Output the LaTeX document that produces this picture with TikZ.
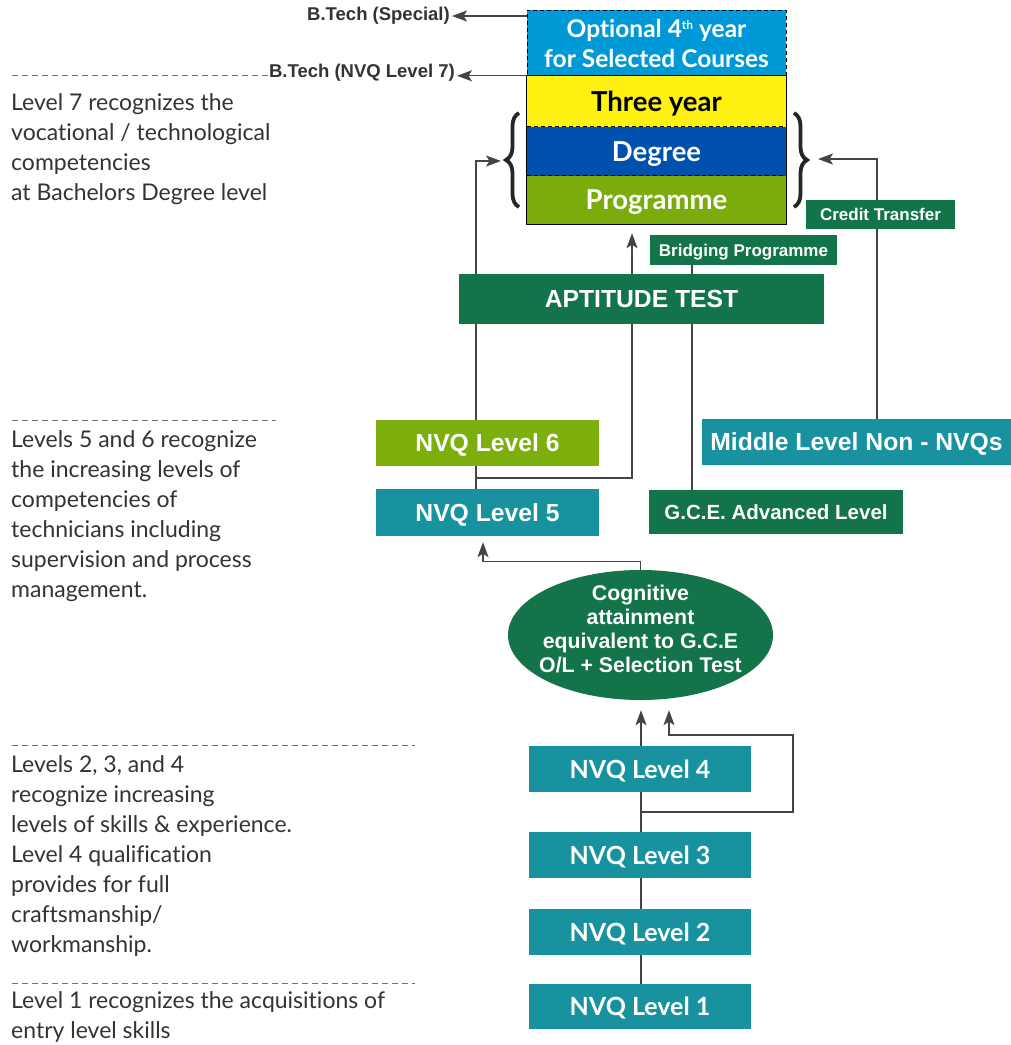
\documentclass[tikz,border=0pt]{standalone}
\usepackage{fontspec}
\setmainfont{Liberation Sans}
\newfontfamily\gill[Ligatures=NoCommon]{Lato}
\usetikzlibrary{arrows.meta,decorations.pathreplacing,shapes.geometric,calc}
\definecolor{cteal}{HTML}{17929E}
\definecolor{cdgreen}{HTML}{137349}
\definecolor{clgreen}{HTML}{7DAF0C}
\definecolor{csky}{HTML}{0099D8}
\definecolor{cyellow}{HTML}{FFF212}
\definecolor{cdblue}{HTML}{0050B0}
\definecolor{cprog}{HTML}{7BAC0E}
\definecolor{cline}{HTML}{444444}
\definecolor{ctext}{HTML}{333333}
\pgfdeclarelayer{bg}
\pgfsetlayers{bg,main}
\begin{document}
\begin{tikzpicture}[x=1pt,y=-1pt,
  box/.style={rectangle, inner sep=0pt, text=white, text depth=0pt, font=\bfseries\fontsize{24.7}{28}\selectfont},
  gbox/.style={box, font=\gill\bfseries\fontsize{25}{28}\selectfont},
  arr/.style={-{Stealth[length=15pt,width=11pt,inset=3.5pt]}, draw=cline, line width=1.3pt},
  conn/.style={draw=cline, line width=1.3pt},
  lefttext/.style={anchor=north west, inner sep=0pt, align=left, text=ctext, font=\gill\fontsize{23}{30}\selectfont},
  sep/.style={draw=ctext!70, line width=0.8pt, dash pattern=on 6pt off 4pt},
  btlab/.style={inner sep=2pt, text=ctext, font=\bfseries\fontsize{18.5}{20}\selectfont},
  stack/.style={rectangle, inner sep=0pt, minimum width=259pt, text=white, text depth=0pt, font=\gill\bfseries\fontsize{27.5}{30}\selectfont},
  elltext/.style={inner sep=0pt, text=white, align=center, font=\bfseries\fontsize{21.3}{24}\selectfont}
]
\useasboundingbox (0,0) rectangle (1011,1045);

% top stack
\node[rectangle, inner sep=0pt, minimum width=259pt, text=white, fill=csky, minimum height=66pt, draw=black, line width=1pt, dash pattern=on 4pt off 3pt, align=center,
      font=\gill\bfseries\fontsize{24.5}{30}\selectfont] (opt) at (656.5,43) {Optional 4\raisebox{8pt}{\fontsize{12}{12}\selectfont th} year\\for Selected Courses};
\node[stack, fill=cyellow, minimum height=51pt, text=black] (three) at (656.5,101.5) {Three year};
\node[stack, fill=cdblue, minimum height=49pt] (deg) at (656.5,151.5) {Degree};
\node[stack, fill=cprog, minimum height=48pt] (prog) at (656.5,200) {Programme};
\draw[line width=1.2pt] (three.north west) rectangle (prog.south east);
\draw[line width=1pt, dash pattern=on 4pt off 3pt] (deg.north west) -- (deg.north east);
\draw[line width=1pt, dash pattern=on 4pt off 3pt] (prog.north west) -- (prog.north east);

% braces
\draw[decorate, decoration={brace, amplitude=13pt}, line width=3.8pt, draw=black!85] (519,207) -- (519,113);
\draw[decorate, decoration={brace, amplitude=13pt}, line width=3.8pt, draw=black!85] (794,113) -- (794,207);
\coordinate (lbt) at (501,161);
\coordinate (rbt) at (818,159);

% B.Tech labels
\node[btlab, anchor=east] (btsp) at (452,16) {B.Tech (Special)};
\node[btlab, anchor=east] (btnvq) at (457,73) {B.Tech (NVQ Level 7)};
\draw[arr] (btsp -| opt.west) -- (btsp.east);
\draw[arr] (three.north west) -- (btnvq.east |- three.north west);

% middle boxes
\node[box, fill=cdgreen, minimum width=149pt, minimum height=29pt, font=\bfseries\fontsize{17}{18}\selectfont] (credit) at (880.5,214.5) {Credit Transfer};
\node[box, fill=cdgreen, minimum width=187pt, minimum height=30pt, font=\bfseries\fontsize{17}{18}\selectfont] (bridge) at (743.5,250) {Bridging Programme};
\node[box, fill=cdgreen, minimum width=365pt, minimum height=50pt] (apt) at (641.5,299) {APTITUDE TEST};
\node[box, fill=clgreen, minimum width=223pt, minimum height=46pt] (nvq6) at (487.5,443) {NVQ Level 6};
\node[box, fill=cteal, minimum width=223pt, minimum height=47pt] (nvq5) at (487.5,512.5) {NVQ Level 5};
\node[box, fill=cteal, minimum width=309pt, minimum height=46pt] (mid) at (856.5,442) {Middle Level Non - NVQs};
\node[box, fill=cdgreen, minimum width=254pt, minimum height=44pt, font=\bfseries\fontsize{20.5}{22}\selectfont] (gce) at (776,512) {G.C.E. Advanced Level};
\node[ellipse, fill=cdgreen, minimum width=265pt, minimum height=130pt, inner sep=0pt] (ell) at (640.5,635) {};
\node[elltext] (ellt) at ([yshift=6pt]ell.center) {Cognitive\\attainment\\equivalent to G.C.E\\O/L + Selection Test};

% lower boxes
\node[gbox, fill=cteal, minimum width=222pt, minimum height=46pt] (nvq4) at (640,769) {NVQ Level 4};
\node[gbox, fill=cteal, minimum width=222pt, minimum height=46pt] (nvq3) at (640,855) {NVQ Level 3};
\node[gbox, fill=cteal, minimum width=222pt, minimum height=46pt] (nvq2) at (640,932) {NVQ Level 2};
\node[gbox, fill=cteal, minimum width=222pt, minimum height=45pt] (nvq1) at (640,1006.5) {NVQ Level 1};

% connectors
\coordinate (x476) at (476,0);
\coordinate (x632) at (632,0);
\coordinate (x692) at (692,0);
\coordinate (x877) at (877,0);
\coordinate (x483) at (483,0);
\coordinate (j56) at (476,478);
\coordinate (j34) at (641,812);
\coordinate (fb) at (793,735);
\begin{pgfonlayer}{bg}
\draw[arr] (nvq5.north -| x476) |- (lbt);
\draw[arr, shorten >=9pt] (j56) -| (prog.south -| x632);
\draw[conn] (bridge.south -| x692) -- (gce.north -| x692);
\draw[arr] (mid.north -| x877) |- (rbt);
\draw[arr, shorten >=6pt] (ell.north) -- ++(0,-8) -| (nvq5.south -| x483);
\draw[conn] (nvq1.north -| j34) -- (nvq2.south -| j34);
\draw[conn] (nvq2.north -| j34) -- (nvq3.south -| j34);
\draw[conn] (nvq3.north -| j34) -- (nvq4.south -| j34);
\draw[arr, shorten >=10pt] (nvq4.north -| j34) -- (ell.south -| j34);
\draw[arr, shorten >=10pt] (j34) -| (fb) -| ([xshift=28.5pt]ell.south);
\end{pgfonlayer}

% left descriptions
\draw[sep] (12,75) -- (268,75);
\draw[sep] (12,420) -- (276,420);
\draw[sep] (12,745) -- (415,745);
\draw[sep] (12,983) -- (415,983);
\node[lefttext] (t7) at (11,93) {Level 7 recognizes the\\vocational / technological\\competencies\\at Bachelors Degree level};
\node[lefttext] (t56) at (11,430) {Levels 5 and 6 recognize\\the increasing levels of\\competencies of\\technicians including\\supervision and process\\management.};
\node[lefttext] (t234) at (11,755) {Levels 2, 3, and 4\\recognize increasing\\levels of skills \& experience.\\Level 4 qualification\\provides for full\\craftsmanship/\\workmanship.};
\node[lefttext] (t1) at (11,991) {Level 1 recognizes the acquisitions of\\entry level skills};
\end{tikzpicture}
\end{document}
